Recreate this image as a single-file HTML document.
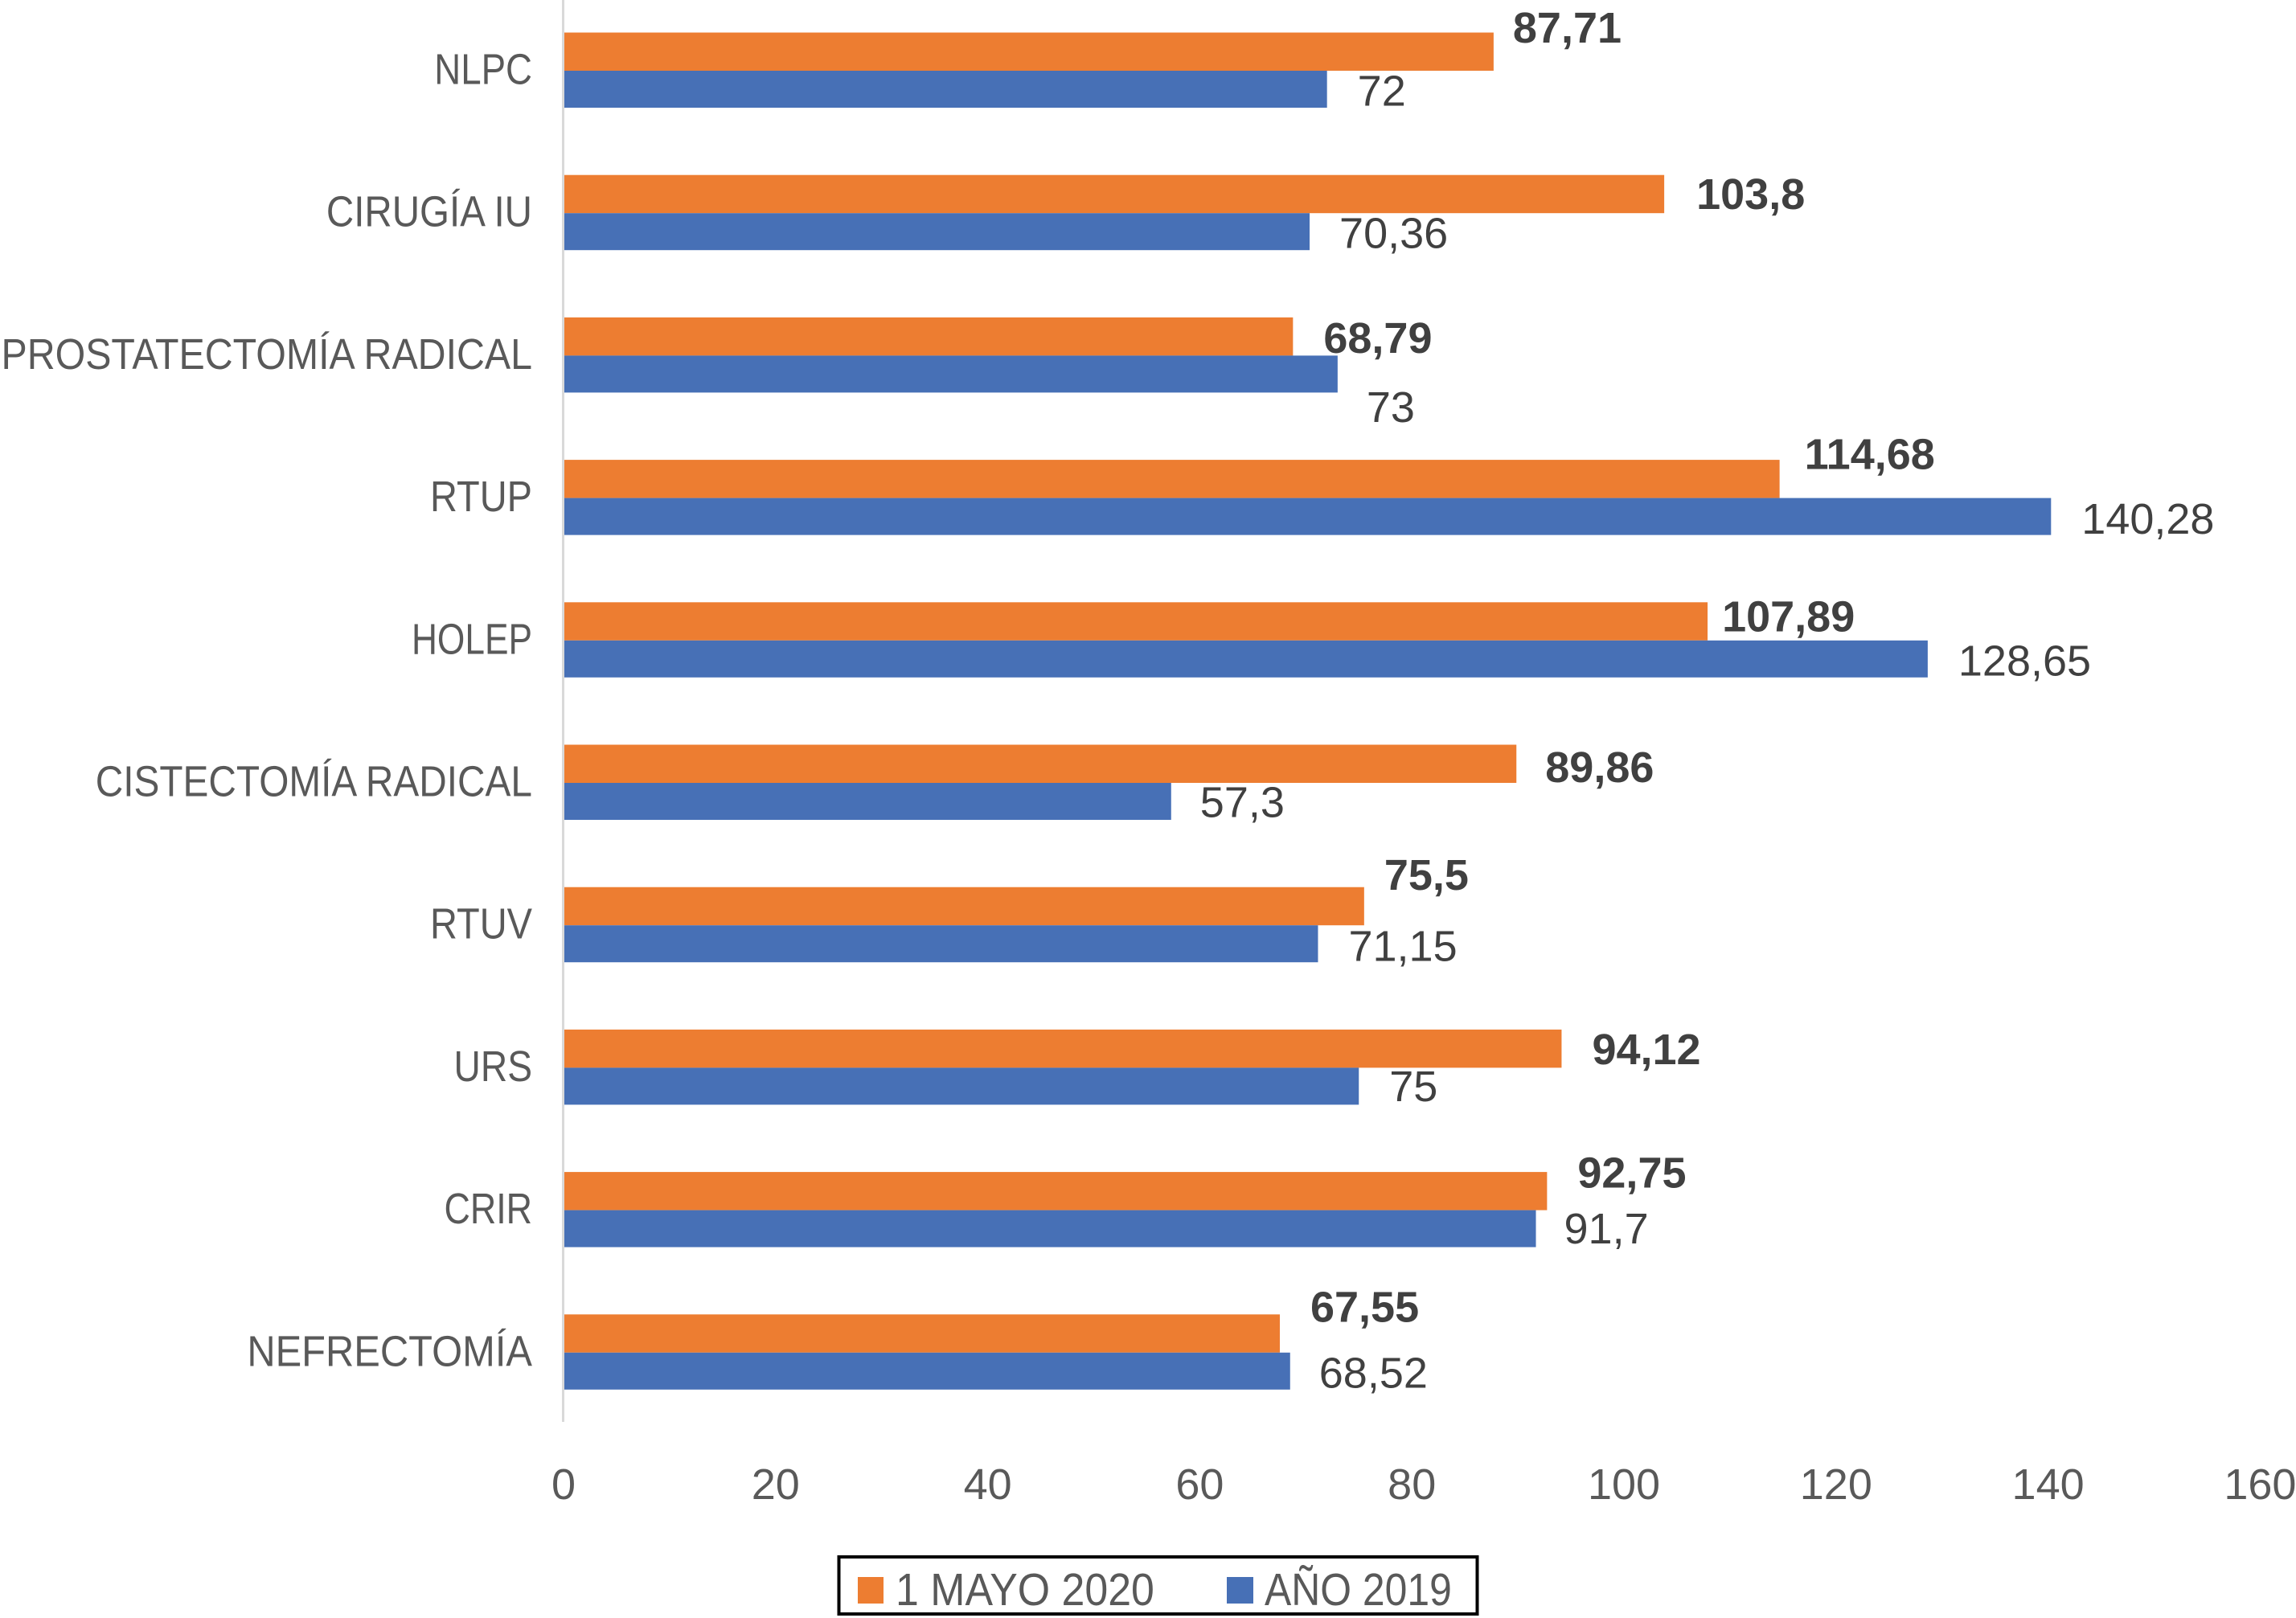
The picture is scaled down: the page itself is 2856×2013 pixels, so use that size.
<!DOCTYPE html>
<html lang="es">
<head>
<meta charset="utf-8">
<title>1 MAYO 2020 vs AÑO 2019</title>
<style>
html,body{margin:0;padding:0;background:#fff;width:2856px;height:2013px;overflow:hidden}
svg{display:block}
text{font-family:"Liberation Sans",sans-serif;font-size:54px}
</style>
</head>
<body>
<svg id="chart" xmlns="http://www.w3.org/2000/svg" width="2856" height="2013" viewBox="0 0 2856 2013"></svg>
<script>
const categories = ["NLPC","CIRUGÍA IU","PROSTATECTOMÍA RADICAL","RTUP","HOLEP","CISTECTOMÍA RADICAL","RTUV","URS","CRIR","NEFRECTOMÍA"];
const values2020 = [87.71,103.8,68.79,114.68,107.89,89.86,75.5,94.12,92.75,67.55];
const values2019 = [72,70.36,73,140.28,128.65,57.3,71.15,75,91.7,68.52];
const xTicks = [0,20,40,60,80,100,120,140,160];
const seriesNames = ["1 MAYO 2020","AÑO 2019"];

// Manual data-label nudges, relative to each bar's end and centre
const nudge2020X = [24,40,38,31,18,36,25,38,38,38];
const nudge2020Y = [-30,0,2,-31,-6,4,-39,1,-23,-33];
const nudge2019X = [38,37,36,38,38,36,38,38,35,36];
const nudge2019Y = [2,2,41,3,2,1,3,0,0,2];
// Per-label horizontal stretch to mimic the narrower original typeface
const categoryStretch = [0.845,0.88,0.895,0.87,0.82,0.885,0.87,0.855,0.83,0.905];

const NS = "http://www.w3.org/2000/svg";
const svg = document.getElementById("chart");
const X0 = 701, PX_PER_UNIT = 13.19;
const GROUP_TOP = 40.5, GROUP_STEP = 177.2, H_ORANGE = 47.5, H_BLUE = 46;
const xScale = v => X0 + v * PX_PER_UNIT;
const groupY = i => GROUP_TOP + i * GROUP_STEP;
const fmt = v => String(v).replace(".", ",");

function el(tag, attrs, parent) {
  const e = document.createElementNS(NS, tag);
  for (const k in attrs) e.setAttribute(k, attrs[k]);
  (parent || svg).appendChild(e);
  return e;
}
function label(str, x, y, opts) {
  const t = el("text", {
    transform: "translate(" + x + "," + y + ") scale(" + opts.sx + ",1)",
    "text-anchor": opts.anchor || "start",
    fill: opts.fill,
    "font-weight": opts.weight || "normal"
  });
  if (opts.size) t.style.fontSize = opts.size + "px";
  t.textContent = str;
  return t;
}

// Category labels
categories.forEach((c, i) => {
  const t = label(c, 662, groupY(i) + 46 + 18, {sx: categoryStretch[i], anchor: "end", fill: "#595959"});
  
  
});

// Bars and data labels
categories.forEach((c, i) => {
  const yO = groupY(i), yB = yO + H_ORANGE;

  const barO = el("rect", {x: X0, y: yO, width: xScale(values2020[i]) - X0, height: H_ORANGE, fill: "#ED7D31"});
  
  

  const barB = el("rect", {x: X0, y: yB, width: xScale(values2019[i]) - X0, height: H_BLUE, fill: "#4770B6"});
  
  

  const lblO = label(fmt(values2020[i]), xScale(values2020[i]) + nudge2020X[i], yO + H_ORANGE / 2 + nudge2020Y[i] + 18.5, {sx: 1, fill: "#404040", weight: "bold"});
  
  

  const lblB = label(fmt(values2019[i]), xScale(values2019[i]) + nudge2019X[i], yB + H_BLUE / 2 + nudge2019Y[i] + 18.5, {sx: 1, fill: "#404040"});
  
  
});

// Y axis line (over the bar bases)
const axis = el("rect", {x: 699, y: 0, width: 3, height: 1769, fill: "#D9D9D9"});



// X axis tick labels
xTicks.forEach(v => {
  const t = label(String(v), xScale(v), 1865, {sx: 1, anchor: "middle", fill: "#595959"});
  
  
});

// Legend
const legendBox = el("rect", {x: 1043.5, y: 1937, width: 794, height: 71, fill: "#fff", stroke: "#000", "stroke-width": 4});



const swatchO = el("rect", {x: 1067, y: 1962, width: 32, height: 33, fill: "#ED7D31"});



const legendO = label(seriesNames[0], 1114, 1997, {sx: 0.91, fill: "#595959", size: 57});



const swatchB = el("rect", {x: 1526, y: 1962, width: 33, height: 33, fill: "#4770B6"});



const legendB = label(seriesNames[1], 1573, 1997, {sx: 0.875, fill: "#595959", size: 57});


</script>
</body>
</html>
